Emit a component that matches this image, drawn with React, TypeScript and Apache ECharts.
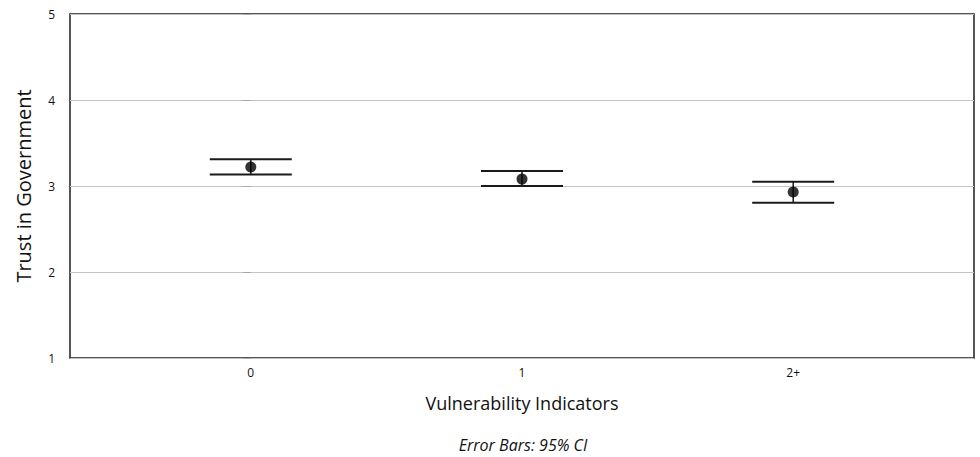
import React, { useEffect, useRef } from "react";
import * as echarts from "echarts";

const categories = ["0", "1", "2+"];
const means = [3.22, 3.08, 2.93];
const lowerCI = [3.135, 3.0, 2.805];
const upperCI = [3.31, 3.175, 3.05];
const yTicks = [1, 2, 3, 4, 5];

const FONT = "'Open Sans', sans-serif";

export default function App() {
  const ref = useRef<HTMLDivElement>(null);
  useEffect(() => {
    if (!ref.current) return;
    const chart = echarts.init(ref.current, null, { renderer: "svg" });
    const errData = categories.map((_, i) => [i, means[i], lowerCI[i], upperCI[i]]);
    chart.setOption({
      animation: false,
      backgroundColor: "#fff",
      textStyle: { fontFamily: FONT },
      grid: {
        left: 70,
        right: 6,
        top: 14,
        bottom: 99,
        show: true,
        borderColor: "#1e1e1e",
        borderWidth: 1.5,
        backgroundColor: "transparent",
      },
      xAxis: {
        type: "value",
        min: -2 / 3,
        max: categories.length - 1 + 2 / 3,
        axisLine: { show: false },
        axisTick: { show: false },
        splitLine: { show: false },
        axisLabel: {
          customValues: categories.map((_, i) => i),
          formatter: (v: number) => categories[Math.round(v)] ?? "",
          fontSize: 12,
          color: "#111",
          margin: 8,
          fontFamily: FONT,
        },
        name: "Vulnerability Indicators",
        nameLocation: "middle",
        nameGap: 36,
        nameTextStyle: { fontSize: 18, color: "#111", fontFamily: FONT },
      },
      yAxis: {
        type: "value",
        min: yTicks[0],
        max: yTicks[yTicks.length - 1],
        interval: 1,
        axisLine: { show: false },
        axisTick: { show: true, length: 8, lineStyle: { color: "#aaa", width: 1 } },
        splitLine: { show: true, lineStyle: { color: "#c4c4c4", width: 1 } },
        axisLabel: { fontSize: 12, color: "#111", margin: 15, fontFamily: FONT },
        name: "Trust in Government",
        nameLocation: "middle",
        nameGap: 37,
        nameTextStyle: { fontSize: 20, color: "#111", fontFamily: FONT },
      },
      series: [
        {
          type: "custom",
          data: errData,
          renderItem: (params: any, api: any) => {
            const x = api.value(0);
            const lo = api.coord([x, api.value(2)]);
            const hi = api.coord([x, api.value(3)]);
            const half = 41;
            const style = { stroke: "#1a1a1a", lineWidth: 2 };
            return {
              type: "group",
              children: [
                { type: "line", shape: { x1: hi[0] - half, y1: hi[1], x2: hi[0] + half, y2: hi[1] }, style },
                { type: "line", shape: { x1: lo[0] - half, y1: lo[1], x2: lo[0] + half, y2: lo[1] }, style },
                { type: "line", shape: { x1: lo[0], y1: lo[1], x2: hi[0], y2: hi[1] }, style: { stroke: "#1a1a1a", lineWidth: 1.5 } },
              ],
            };
          },
          z: 3,
        },
        {
          type: "scatter",
          data: categories.map((_, i) => [i, means[i]]),
          symbol: "circle",
          symbolSize: 11,
          itemStyle: { color: "#000" },
          z: 4,
        },
      ],
      graphic: [
        {
          type: "text",
          x: 523,
          y: 445,
          style: {
            text: "Error Bars: 95% CI",
            fontSize: 16,
            fontStyle: "italic",
            fill: "#111",
            fontFamily: FONT,
            textAlign: "center",
            textVerticalAlign: "middle",
          },
        },
      ],
    });
    return () => chart.dispose();
  }, []);
  return (
    <div
      ref={ref}
      style={{ position: "fixed", left: 0, top: 0, width: 980, height: 457, background: "#fff" }}
    />
  );
}
